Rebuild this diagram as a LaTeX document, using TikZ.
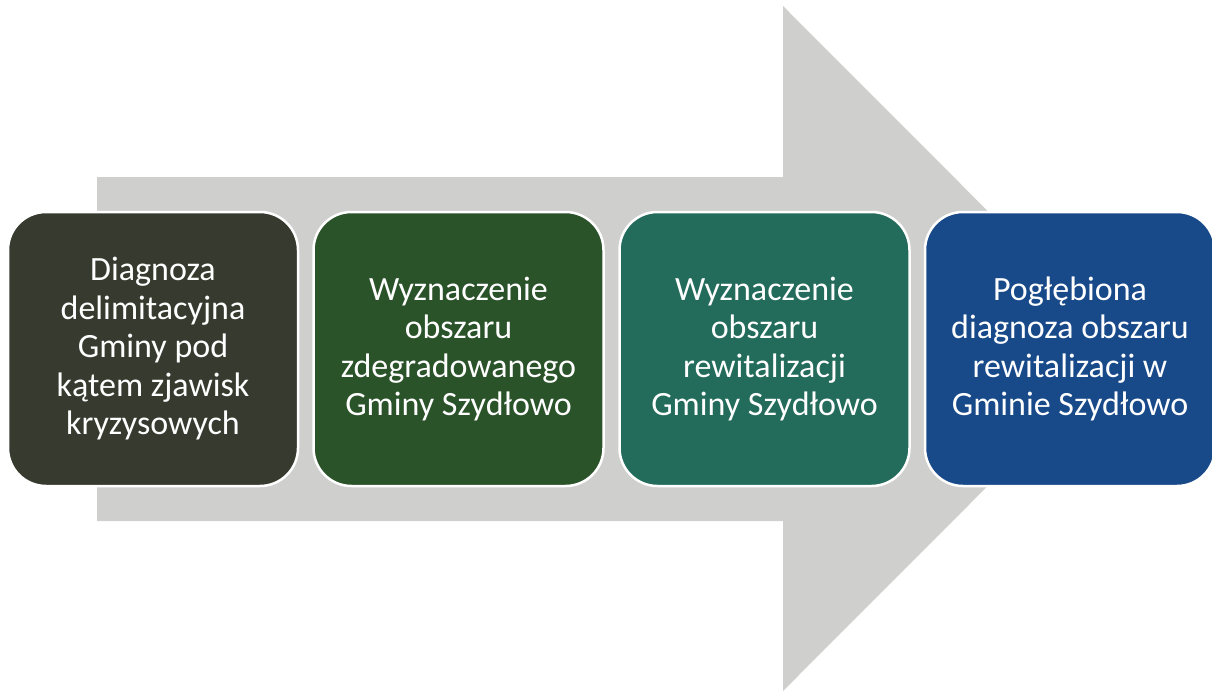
\documentclass[tikz,border=0pt]{standalone}
\usepackage{fontspec}
\setmainfont{Carlito}
\definecolor{arrowgray}{HTML}{CFCFCE}
\definecolor{boxA}{HTML}{373B2F}
\definecolor{boxB}{HTML}{2B532A}
\definecolor{boxC}{HTML}{236B5B}
\definecolor{boxD}{HTML}{184A8A}
\tikzset{
  stepbox/.style={draw=white, line width=2.5pt, rounded corners=38pt, minimum width=290pt, minimum height=274pt,
    text=white, align=center, font=\fontsize{34}{38.5}\selectfont, inner sep=0pt},
}
\begin{document}
\begin{tikzpicture}[x=1pt,y=-1pt]
\useasboundingbox (0,0) rectangle (1212,691);
\begin{scope}
\clip (0,0) rectangle (1212,691);
\fill[arrowgray] (97,177) -- (783,177) -- (783,6) -- (1125,348.5) -- (783,691) -- (783,521) -- (97,521) -- cycle;
\node[stepbox, fill=boxA] (s1) at (153,349) {Diagnoza\\delimitacyjna\\Gminy pod\\kątem zjawisk\\kryzysowych};
\node[stepbox, fill=boxB] (s2) at (458.5,349) {Wyznaczenie\\obszaru\\zdegradowanego\\Gminy Szydłowo};
\node[stepbox, fill=boxC] (s3) at (764.5,349) {Wyznaczenie\\obszaru\\rewitalizacji\\Gminy Szydłowo};
\node[stepbox, fill=boxD] (s4) at (1070,349) {Pogłębiona\\diagnoza obszaru\\rewitalizacji w\\Gminie Szydłowo};
\end{scope}
\end{tikzpicture}
\end{document}
